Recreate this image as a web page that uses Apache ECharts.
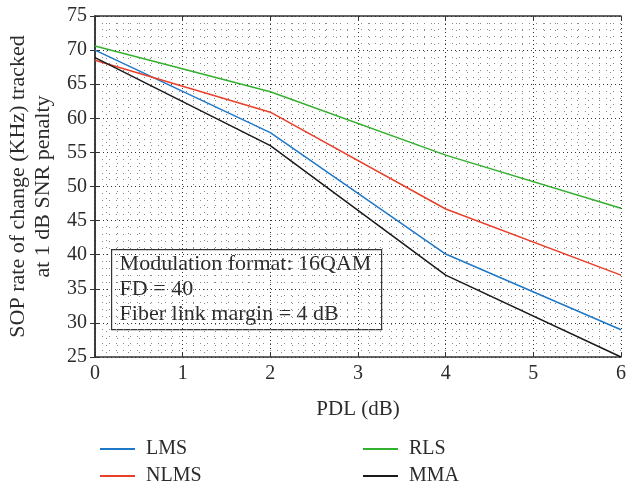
<!DOCTYPE html>
<html>
<head>
<meta charset="utf-8">
<script src="https://cdn.jsdelivr.net/npm/echarts@6/dist/echarts.min.js"></script>
<style>
  html, body { margin: 0; padding: 0; background: #fff; }
  #chart { width: 639px; height: 486px; }
</style>
</head>
<body>
<div id="chart"></div>
<script>
  'use strict'

  var pdl = [0, 2, 4, 6];
  var lms = [70.0, 57.9, 40.1, 29.0];
  var nlms = [68.5, 60.9, 46.7, 37.0];
  var rls = [70.6, 63.9, 54.6, 46.8];
  var mma = [68.9, 56.0, 37.0, 25.0];
  var noteLines = ['Modulation format: 16QAM', 'FD = 40', 'Fiber link margin = 4 dB'];

  var font = "'Liberation Serif', 'DejaVu Serif', serif";
  var ink = '#2b2b2b';

  function pairs(ys) {
    return pdl.map(function (x, i) { return [x, ys[i]]; });
  }

  function line(name, ys, color) {
    return {
      name: name,
      type: 'line',
      data: pairs(ys),
      symbol: 'none',
      lineStyle: { color: color, width: 1.5 },
      itemStyle: { color: color },
      z: 5
    };
  }

  function legendAt(name, left, top) {
    return {
      left: left, top: top,
      itemWidth: 35, itemHeight: 2,
      icon: 'rect',
      textStyle: { fontFamily: font, fontSize: 20, color: ink, padding: [0, 0, 0, 6] },
      data: [name]
    };
  }

  var frameAxis = {
    show: true,
    lineStyle: { color: '#333', width: 1.5 }
  };

  var chart = echarts.init(document.getElementById('chart'));
  var option = {
    animation: false,
    grid: { left: 95, right: 18, top: 16, bottom: 129, containLabel: false, outerBoundsMode: 'none' },
    xAxis: [{
      type: 'value',
      min: 0, max: 6, interval: 1,
      name: 'PDL (dB)',
      nameLocation: 'middle',
      nameGap: 42,
      nameTextStyle: { fontFamily: font, fontSize: 21, color: ink },
      axisLine: frameAxis,
      axisTick: { inside: true, length: 5, lineStyle: { color: '#333' } },
      axisLabel: { fontFamily: font, fontSize: 20, color: ink, margin: 7 },
      splitLine: { show: true, lineStyle: { color: '#333', type: [1, 3], width: 1 } },
      minorTick: { show: false, splitNumber: 8 },
      minorSplitLine: { show: true, lineStyle: { color: '#888', type: [1, 6], width: 1 } }
    }, {
      type: 'value',
      position: 'top',
      min: 0, max: 6, interval: 1,
      axisLine: frameAxis,
      axisTick: { inside: true, length: 5, lineStyle: { color: '#333' } },
      axisLabel: { show: false },
      splitLine: { show: false }
    }],
    yAxis: [{
      type: 'value',
      min: 25, max: 75, interval: 5,
      name: 'SOP rate of change (KHz) tracked\nat 1 dB SNR penalty',
      nameLocation: 'middle',
      nameGap: 35,
      nameTextStyle: { fontFamily: font, fontSize: 22, color: ink, lineHeight: 25 },
      axisLine: frameAxis,
      axisTick: { inside: true, length: 5, lineStyle: { color: '#333' } },
      axisLabel: { fontFamily: font, fontSize: 20, color: ink, margin: 8 },
      splitLine: { show: true, lineStyle: { color: '#333', type: [1, 3], width: 1 } },
      minorTick: { show: false, splitNumber: 5 },
      minorSplitLine: { show: true, lineStyle: { color: '#888', type: [1, 6], width: 1 } }
    }, {
      type: 'value',
      position: 'right',
      min: 25, max: 75, interval: 5,
      axisLine: frameAxis,
      axisTick: { inside: true, length: 5, lineStyle: { color: '#333' } },
      axisLabel: { show: false },
      splitLine: { show: false }
    }],
    legend: [
      legendAt('LMS', 95, 434),
      legendAt('NLMS', 95, 461),
      legendAt('RLS', 358, 434),
      legendAt('MMA', 358, 461)
    ],
    graphic: [{
      type: 'group',
      left: 111, top: 249,
      z: 10,
      children: [{
        type: 'rect',
        shape: { x: 0, y: 0, width: 270, height: 80 },
        style: { fill: '#fff', stroke: '#333', lineWidth: 1.2 }
      }, {
        type: 'text',
        x: 8, y: 2,
        style: {
          text: noteLines.join('\n'),
          font: '22px ' + font,
          lineHeight: 25,
          fill: ink
        }
      }]
    }],
    series: [
      line('LMS', lms, '#1f77c8'),
      line('NLMS', nlms, '#e8402a'),
      line('RLS', rls, '#33b02e'),
      line('MMA', mma, '#1a1a1a')
    ]
  };
  chart.setOption(option);
</script>
</body>
</html>
